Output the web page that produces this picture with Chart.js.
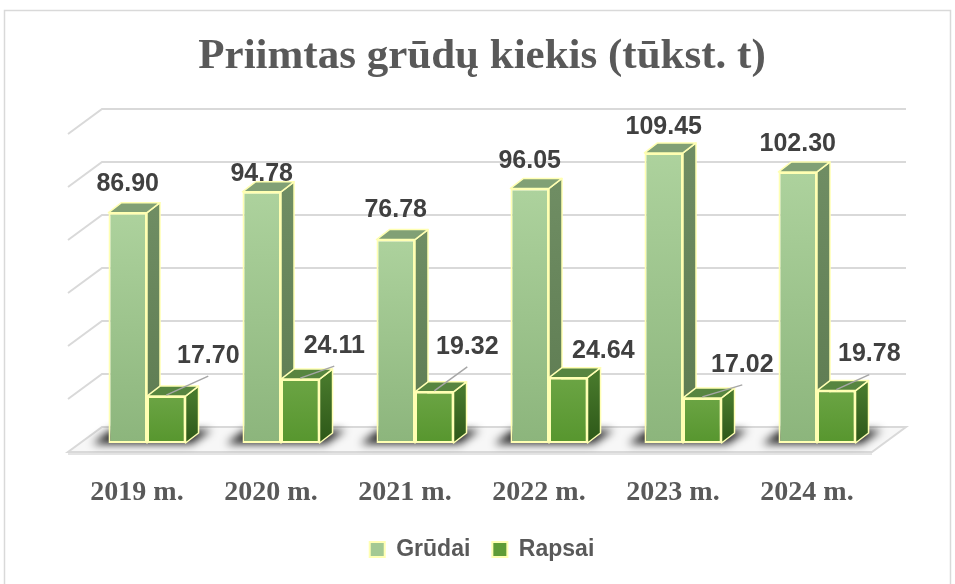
<!DOCTYPE html>
<html>
<head>
<meta charset="utf-8">
<script src="https://cdn.jsdelivr.net/npm/chart.js@4"></script>
<style>
  html, body { margin: 0; padding: 0; background: #fff; }
  #wrap { width: 955px; height: 584px; }
</style>
</head>
<body>
<div id="wrap"><canvas id="grafikas"></canvas></div>
<script>
const metai = ['2019 m.', '2020 m.', '2021 m.', '2022 m.', '2023 m.', '2024 m.'];
const grudai = [86.90, 94.78, 76.78, 96.05, 109.45, 102.30];
const rapsai = [17.70, 24.11, 19.32, 24.64, 17.02, 19.78];
const yTicks = [0, 20, 40, 60, 80, 100, 120];

// kur dedamos reiksmiu etiketes (px nuo stulpelio virsaus)
const grudaiZymes = [29, 18, 29, 27, 26, 28];
const rapsaiZymes = [[42, -40], [34, -33], [33, -45], [35, -27], [40, -33], [33, -36]];

const GYLIS = { dx: 13, dy: -10 };
const PRIEKIS = { dx: -12, dy: 9 };
const GALAS = { dx: 22, dy: -16 };
const KRASTAS = '#ffffb3';

const spalvos = {
    grudai: { virsus: '#add29d', apacia: '#8cb57c', sonas: ['#6f8d63', '#5c7a50'], stogas: '#81a075', legenda: '#a3c993' },
    rapsai: { virsus: '#6ba444', apacia: '#57962e', sonas: ['#47782b', '#2d5718'], stogas: '#578540', legenda: '#5f9c36' }
};

function gradientas(context, s) {
    const chart = context.chart;
    if (!chart.chartArea) return s.apacia;
    const y = chart.scales.y;
    const v = context.raw;
    const g = chart.ctx.createLinearGradient(0, y.getPixelForValue(v), 0, y.getPixelForValue(0));
    g.addColorStop(0, s.virsus);
    g.addColorStop(1, s.apacia);
    return g;
}

function daugiakampis(ctx, taskai) {
    ctx.beginPath();
    ctx.moveTo(taskai[0][0], taskai[0][1]);
    for (let i = 1; i < taskai.length; i++) ctx.lineTo(taskai[i][0], taskai[i][1]);
    ctx.closePath();
}

function piestiBriaunas(ctx, bar, s) {
    const p = bar.getProps(['x', 'y', 'base', 'width'], true);
    const L = p.x - p.width / 2, R = p.x + p.width / 2, T = p.y, B = p.base;
    ctx.save();
    ctx.lineWidth = 1.5;
    ctx.lineJoin = 'round';
    ctx.strokeStyle = KRASTAS;
    const g = ctx.createLinearGradient(0, T, 0, B);
    g.addColorStop(0, s.sonas[0]);
    g.addColorStop(1, s.sonas[1]);
    daugiakampis(ctx, [[R, T], [R + GYLIS.dx, T + GYLIS.dy], [R + GYLIS.dx, B + GYLIS.dy], [R, B]]);
    ctx.fillStyle = g;
    ctx.fill();
    ctx.stroke();
    daugiakampis(ctx, [[L, T], [L + GYLIS.dx, T + GYLIS.dy], [R + GYLIS.dx, T + GYLIS.dy], [R, T]]);
    ctx.fillStyle = s.stogas;
    ctx.fill();
    ctx.stroke();
    ctx.restore();
}

const erdve = {
    id: 'erdve',
    beforeDraw(chart) {
        const ctx = chart.ctx;
        ctx.save();
        ctx.fillStyle = '#fff';
        ctx.fillRect(0, 0, chart.width, chart.height);
        ctx.strokeStyle = '#d9d9d9';
        ctx.lineWidth = 1.5;
        ctx.strokeRect(4.5, 10.5, chart.width - 9, chart.height + 20);
        ctx.restore();
    },
    beforeDatasetsDraw(chart) {
        const ctx = chart.ctx;
        const a = chart.chartArea;
        const y = chart.scales.y;
        ctx.save();
        // grindys
        daugiakampis(ctx, [
            [a.left + PRIEKIS.dx, a.bottom + PRIEKIS.dy],
            [a.right + PRIEKIS.dx, a.bottom + PRIEKIS.dy],
            [a.right + GALAS.dx, a.bottom + GALAS.dy],
            [a.left + GALAS.dx, a.bottom + GALAS.dy]
        ]);
        ctx.fillStyle = '#f7f7f7';
        ctx.fill();
        ctx.strokeStyle = '#d9d9d9';
        ctx.lineWidth = 2;
        ctx.stroke();
        ctx.beginPath();
        ctx.moveTo(a.left + PRIEKIS.dx, a.bottom + PRIEKIS.dy + 2);
        ctx.lineTo(a.right + PRIEKIS.dx, a.bottom + PRIEKIS.dy + 2);
        ctx.strokeStyle = '#e4e4e4';
        ctx.stroke();
        // tinklelis
        ctx.strokeStyle = '#d9d9d9';
        ctx.lineWidth = 2;
        yTicks.forEach(v => {
            if (v === 0) return;
            const py = y.getPixelForValue(v);
            ctx.beginPath();
            ctx.moveTo(a.left + PRIEKIS.dx, py + PRIEKIS.dy);
            ctx.lineTo(a.left + GALAS.dx, py + GALAS.dy);
            ctx.lineTo(a.right + GALAS.dx, py + GALAS.dy);
            ctx.stroke();
        });
        // seselis
        const mg = chart.getDatasetMeta(0).data;
        const mr = chart.getDatasetMeta(1).data;
        ctx.filter = 'blur(4px)';
        ctx.fillStyle = 'rgba(0,0,0,0.85)';
        mg.forEach((g, i) => {
            const r = mr[i];
            const x1 = g.x - g.width / 2, x2 = r.x + r.width / 2;
            const b = a.bottom;
            daugiakampis(ctx, [[x1 - 16, b + 1], [x2 + 6, b + 1], [x2 + 26, b - 13], [x1 + 2, b - 13]]);
            ctx.fill();
        });
        ctx.restore();
    },
    afterDatasetsDraw(chart) {
        const ctx = chart.ctx;
        const mg = chart.getDatasetMeta(0).data;
        const mr = chart.getDatasetMeta(1).data;
        mg.forEach((g, i) => {
            piestiBriaunas(ctx, g, spalvos.grudai);
            mr[i].draw(ctx);
            piestiBriaunas(ctx, mr[i], spalvos.rapsai);
        });
        ctx.save();
        ctx.font = 'bold 25px "Liberation Sans"';
        ctx.fillStyle = '#404040';
        ctx.textAlign = 'center';
        ctx.textBaseline = 'middle';
        mg.forEach((g, i) => {
            ctx.fillText(grudai[i].toFixed(2), g.x, g.y - grudaiZymes[i]);
        });
        mr.forEach((r, i) => {
            const lx = r.x + rapsaiZymes[i][0];
            const ly = r.y + rapsaiZymes[i][1];
            if (r.y - (ly + 20) > 10) {
                ctx.beginPath();
                ctx.moveTo(r.x, r.y - 1);
                ctx.lineTo(lx, ly + 20);
                ctx.strokeStyle = '#a6a6a6';
                ctx.lineWidth = 1.5;
                ctx.stroke();
            }
            ctx.fillText(rapsai[i].toFixed(2), lx, ly);
        });
        ctx.restore();
    }
};

new Chart(document.getElementById('grafikas').getContext('2d'), {
    type: 'bar',
    data: {
        labels: metai,
        datasets: [{
            label: 'Grūdai',
            data: grudai,
            backgroundColor: c => gradientas(c, spalvos.grudai),
            borderColor: KRASTAS,
            borderWidth: 2,
            borderSkipped: false,
            barPercentage: 1,
            categoryPercentage: 0.575
        }, {
            label: 'Rapsai',
            data: rapsai,
            backgroundColor: c => gradientas(c, spalvos.rapsai),
            borderColor: KRASTAS,
            borderWidth: 2,
            borderSkipped: false,
            barPercentage: 1,
            categoryPercentage: 0.575
        }]
    },
    options: {
        responsive: true,
        maintainAspectRatio: false,
        animation: false,
        layout: {
            padding: { left: 80, right: 71, top: 0, bottom: 13 }
        },
        plugins: {
            title: {
                display: true,
                text: 'Priimtas grūdų kiekis (tūkst. t)',
                color: '#595959',
                font: { family: '"Liberation Serif", serif', size: 43, weight: 'bold', lineHeight: 1.2 },
                padding: { top: 31, bottom: 42.4 }
            },
            legend: {
                position: 'bottom',
                labels: {
                    color: '#595959',
                    boxWidth: 15,
                    boxHeight: 15,
                    padding: 22,
                    font: { family: '"Liberation Sans"', size: 23, weight: 'bold' },
                    generateLabels: chart => chart.data.datasets.map((d, i) => ({
                        text: d.label,
                        fillStyle: i === 0 ? spalvos.grudai.legenda : spalvos.rapsai.legenda,
                        strokeStyle: KRASTAS,
                        lineWidth: 2,
                        fontColor: '#595959',
                        hidden: false,
                        datasetIndex: i
                    }))
                }
            },
            tooltip: { enabled: false }
        },
        scales: {
            x: {
                grid: { display: false },
                border: { display: false },
                ticks: {
                    color: '#595959',
                    padding: 25,
                    labelOffset: -10,
                    maxRotation: 0,
                    font: { family: '"Liberation Serif", serif', size: 28, weight: 'bold' }
                },
                afterFit: s => { s.height = 73; }
            },
            y: {
                display: false,
                min: 0,
                max: 120,
                ticks: { stepSize: 20 }
            }
        }
    },
    plugins: [erdve]
});
</script>
</body>
</html>
